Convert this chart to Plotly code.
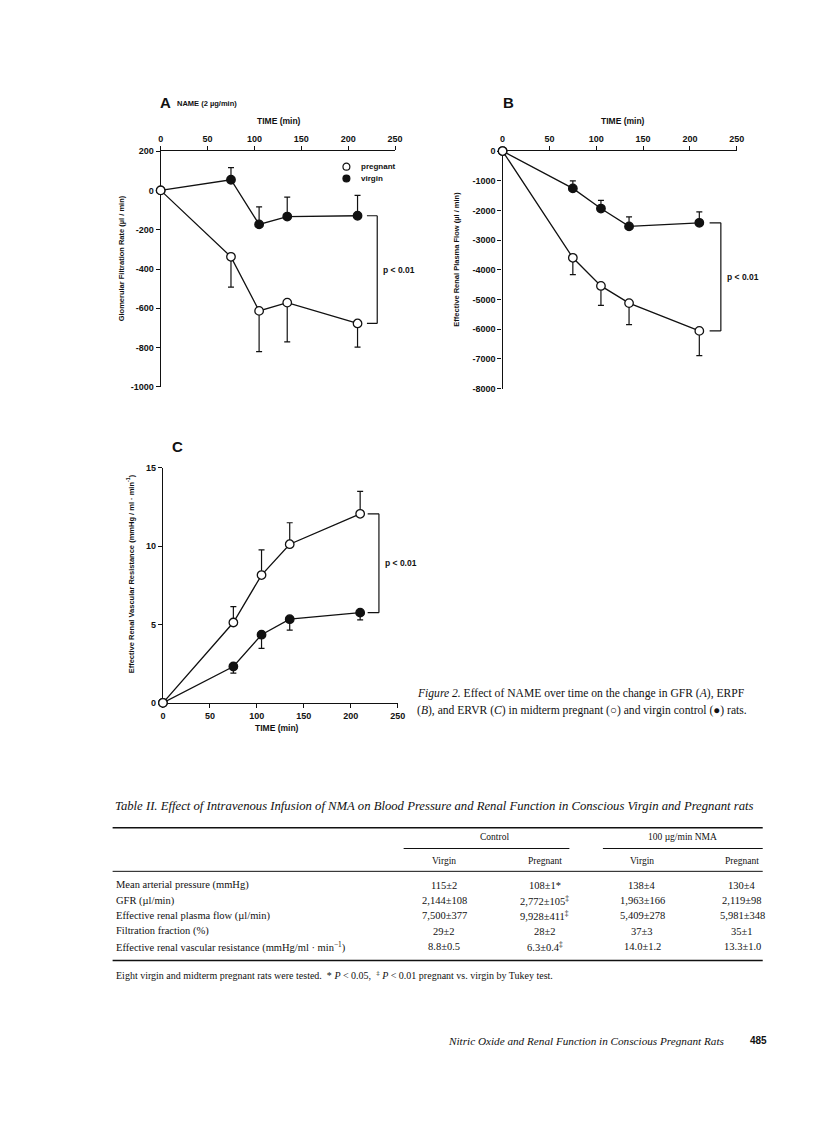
import plotly.graph_objects as go

W, H = 816, 1129
def X(p): return p / W
def Y(p): return 1 - p / H

# ---------------- data ----------------
time_min = [0, 75, 105, 135, 210]

gfr_pregnant = [0, -338, -613, -571, -677]
gfr_pregnant_se = [None, 154, 207, 200, 120]
gfr_virgin = [0, 54, -173, -133, -129]
gfr_virgin_se = [None, 62, 89, 99, 104]

erpf_pregnant = [0, -3595, -4541, -5120, -6055]
erpf_pregnant_se = [None, 568, 657, 723, 835]
erpf_virgin = [0, -1257, -1936, -2537, -2415]
erpf_virgin_se = [None, 256, 278, 322, 367]

ervr_pregnant = [0, 5.13, 8.16, 10.13, 12.07]
ervr_pregnant_se = [None, 1.01, 1.61, 1.37, 1.43]
ervr_virgin = [0, 2.32, 4.35, 5.34, 5.76]
ervr_virgin_se = [None, 0.42, 0.87, 0.70, 0.46]

x_ticks = [0, 50, 100, 150, 200, 250]
gfr_ticks = [200, 0, -200, -400, -600, -800, -1000]
gfr_ticktext = ["200", "0", "-200", "-400", "-600", "-800", "-1000"]
erpf_ticks = [0, -1000, -2000, -3000, -4000, -5000, -6000, -7000, -8000]
erpf_ticktext = ["0", "-1000", "-2000", "-3000", "-4000", "-5000", "-6000", "-7000", "-8000"]
ervr_ticks = [0, 5, 10, 15]

table_groups = ["Control", "100 µg/min NMA"]
table_cols = ["Virgin", "Pregnant", "Virgin", "Pregnant"]
table_rows = [
    "Mean arterial pressure (mmHg)",
    "GFR (µl/min)",
    "Effective renal plasma flow (µl/min)",
    "Filtration fraction (%)",
    "Effective renal vascular resistance (mmHg/ml · min<sup>−1</sup>)",
]
control_virgin = ["115±2", "2,144±108", "7,500±377", "29±2", "8.8±0.5"]
control_pregnant = ["108±1*", "2,772±105<sup>‡</sup>", "9,928±411<sup>‡</sup>", "28±2", "6.3±0.4<sup>‡</sup>"]
nma_virgin = ["138±4", "1,963±166", "5,409±278", "37±3", "14.0±1.2"]
nma_pregnant = ["130±4", "2,119±98", "5,981±348", "35±1", "13.3±1.0"]

# ---------------- styling ----------------
INK = "#111111"
SANS = "Liberation Sans, Arial, sans-serif"
SERIF = "Liberation Serif, Times New Roman, serif"
tickfont = dict(family=SANS, size=9, color=INK, weight="bold")

fig = go.Figure()

def add_series(xa, ya, yv, se, filled, up):
    err = dict(type="data", symmetric=False, color=INK, thickness=1.2, width=3)
    zeros = [None if s is None else 0 for s in se]
    if up:
        err.update(array=se, arrayminus=zeros)
    else:
        err.update(array=zeros, arrayminus=se)
    fig.add_trace(go.Scatter(
        x=time_min, y=yv, xaxis=xa, yaxis=ya, mode="lines+markers",
        line=dict(color=INK, width=1.3),
        marker=dict(symbol="circle", size=8.5,
                    color=INK if filled else "white",
                    line=dict(color=INK, width=1.3)),
        error_y=err, cliponaxis=False, showlegend=False))

# Panel A
add_series("x", "y", gfr_virgin, gfr_virgin_se, True, True)
add_series("x", "y", gfr_pregnant, gfr_pregnant_se, False, False)
# Panel B
add_series("x2", "y2", erpf_virgin, erpf_virgin_se, True, True)
add_series("x2", "y2", erpf_pregnant, erpf_pregnant_se, False, False)
# Panel C
add_series("x3", "y3", ervr_virgin, ervr_virgin_se, True, False)
add_series("x3", "y3", ervr_pregnant, ervr_pregnant_se, False, True)

axcommon = dict(showline=True, linecolor=INK, linewidth=1.3, ticks="outside",
                ticklen=4, tickwidth=1.3, tickcolor=INK, showgrid=False,
                zeroline=False, tickfont=tickfont, fixedrange=True,
                layer="below traces")

fig.update_layout(
    width=W, height=H, margin=dict(l=0, r=0, t=0, b=0),
    paper_bgcolor="white", plot_bgcolor="white", showlegend=False,
    xaxis=dict(domain=[X(151.7), X(389.3)], range=[0, 250], side="top", anchor="y",
               tickvals=x_ticks, **axcommon),
    yaxis=dict(domain=[Y(377.3), Y(139.3)], range=[-1000, 200], anchor="x",
               tickvals=gfr_ticks, ticktext=gfr_ticktext, **axcommon),
    xaxis2=dict(domain=[X(498.3), X(735.7)], range=[0, 250], side="top", anchor="y2",
                tickvals=x_ticks, **axcommon),
    yaxis2=dict(domain=[Y(379), Y(139.3)], range=[-8000, 0], anchor="x2",
                tickvals=erpf_ticks, ticktext=erpf_ticktext, **axcommon),
    xaxis3=dict(domain=[X(154), X(392)], range=[0, 250], side="bottom", anchor="y3",
                tickvals=x_ticks, **axcommon),
    yaxis3=dict(domain=[Y(696), Y(459)], range=[0, 15], anchor="x3",
                tickvals=ervr_ticks, **axcommon),
)

shapes = []
ann = []

def text(x, y, s, size=9, family=SANS, weight="bold", xanchor="center", angle=0, italic=False):
    f = dict(family=family, size=size, color=INK, weight=weight)
    if italic:
        f["style"] = "italic"
    ann.append(dict(x=X(x), y=Y(y), xref="paper", yref="paper", text=s, showarrow=False,
                    xanchor=xanchor, yanchor="middle", font=f, textangle=angle))

# brackets with p-values (derived from last data points)
def bracket(xa, ya, top, bottom, x0=220, x1=231):
    for yy in (top, bottom):
        shapes.append(dict(type="line", xref=xa, yref=ya, x0=x0, x1=x1, y0=yy, y1=yy,
                           line=dict(color=INK, width=1.2)))
    shapes.append(dict(type="line", xref=xa, yref=ya, x0=x1, x1=x1, y0=top, y1=bottom,
                       line=dict(color=INK, width=1.2)))
    ann.append(dict(x=x1 + 4, y=(top + bottom) / 2, xref=xa, yref=ya, text="p < 0.01",
                    showarrow=False, xanchor="left", yanchor="middle",
                    font=dict(family=SANS, size=8.5, color=INK, weight="bold")))

bracket("x", "y", gfr_virgin[-1], gfr_pregnant[-1])
bracket("x2", "y2", erpf_virgin[-1], erpf_pregnant[-1], 221, 233)
bracket("x3", "y3", ervr_pregnant[-1], ervr_virgin[-1], 218, 230)

# panel labels & axis titles
text(149, 90, "A", size=15, xanchor="left")
text(166, 91, "NAME (2 µg/min)", size=7.5, xanchor="left")
text(272, 109, "TIME (min)", size=8.5)
text(497, 90, "B", size=15, xanchor="left")
text(620, 109, "TIME (min)", size=8.5)
text(161, 437, "C", size=15, xanchor="left")
text(270, 721, "TIME (min)", size=8.5)
text(112, 247, "Glomerular Filtration Rate (µl / min)", size=7.5, angle=-90)
text(452, 248, "Effective Renal Plasma Flow (µl / min)", size=7.5, angle=-90)
text(121, 566, "Effective Renal Vascular Resistance (mmHg / ml · min<sup>-1</sup>)", size=7.5, angle=-90)

# legend (panel A)
for yy, filled, lab in ((155, False, "pregnant"), (167, True, "virgin")):
    shapes.append(dict(type="circle", xref="paper", yref="paper",
                       x0=X(336.5), x1=X(343.5), y0=Y(yy + 3.5), y1=Y(yy - 3.5),
                       fillcolor=INK if filled else "white", line=dict(color=INK, width=1.2)))
    text(353, yy, lab, size=8, xanchor="left")

# caption
text(410, 687, "<i>Figure 2.</i> Effect of NAME over time on the change in GFR (<i>A</i>), ERPF",
     size=11.6, family=SERIF, weight="normal", xanchor="left")
text(410, 704, "(<i>B</i>), and ERVR (<i>C</i>) in midterm pregnant (○) and virgin control (●) rats.",
     size=11.6, family=SERIF, weight="normal", xanchor="left")

# table
text(103, 800, "Table II. Effect of Intravenous Infusion of NMA on Blood Pressure and Renal Function in Conscious Virgin and Pregnant rats",
     size=12.7, family=SERIF, weight="normal", xanchor="left", italic=True)
def hline(y, x0, x1, w):
    shapes.append(dict(type="line", xref="paper", yref="paper", x0=X(x0), x1=X(x1),
                       y0=Y(y), y1=Y(y), line=dict(color=INK, width=w)))
hline(822, 103, 762, 1.6)
hline(843, 398, 566, 1.1)
hline(843, 600, 762, 1.1)
hline(866, 103, 762, 1.0)
hline(956, 103, 762, 1.6)

col_x = [439, 541, 640, 741]
text(490, 831, table_groups[0], size=9.5, family=SERIF, weight="normal")
text(681, 831, table_groups[1], size=9.5, family=SERIF, weight="normal")
for cx, c in zip(col_x, table_cols):
    text(cx, 856, c, size=9.5, family=SERIF, weight="normal")
columns = [control_virgin, control_pregnant, nma_virgin, nma_pregnant]
for i, lab in enumerate(table_rows):
    ry = 880 + i * 15.5
    text(104, ry, lab, size=10.5, family=SERIF, weight="normal", xanchor="left")
    for cx, col in zip(col_x, columns):
        text(cx, ry, col[i], size=10.5, family=SERIF, weight="normal")

text(104, 971, "Eight virgin and midterm pregnant rats were tested.  * <i>P</i> < 0.05,  <sup>‡</sup> <i>P</i> < 0.01 pregnant vs. virgin by Tukey test.",
     size=10, family=SERIF, weight="normal", xanchor="left")
ann.append(dict(x=X(726), y=Y(1037), xref="paper", yref="paper",
                text="Nitric Oxide and Renal Function in Conscious Pregnant Rats",
                showarrow=False, xanchor="right", yanchor="middle",
                font=dict(family=SERIF, size=11.2, color=INK, style="italic")))
text(747, 1037, "485", size=10, xanchor="left")

fig.update_layout(shapes=shapes, annotations=ann)
fig.write_html("out.html")
